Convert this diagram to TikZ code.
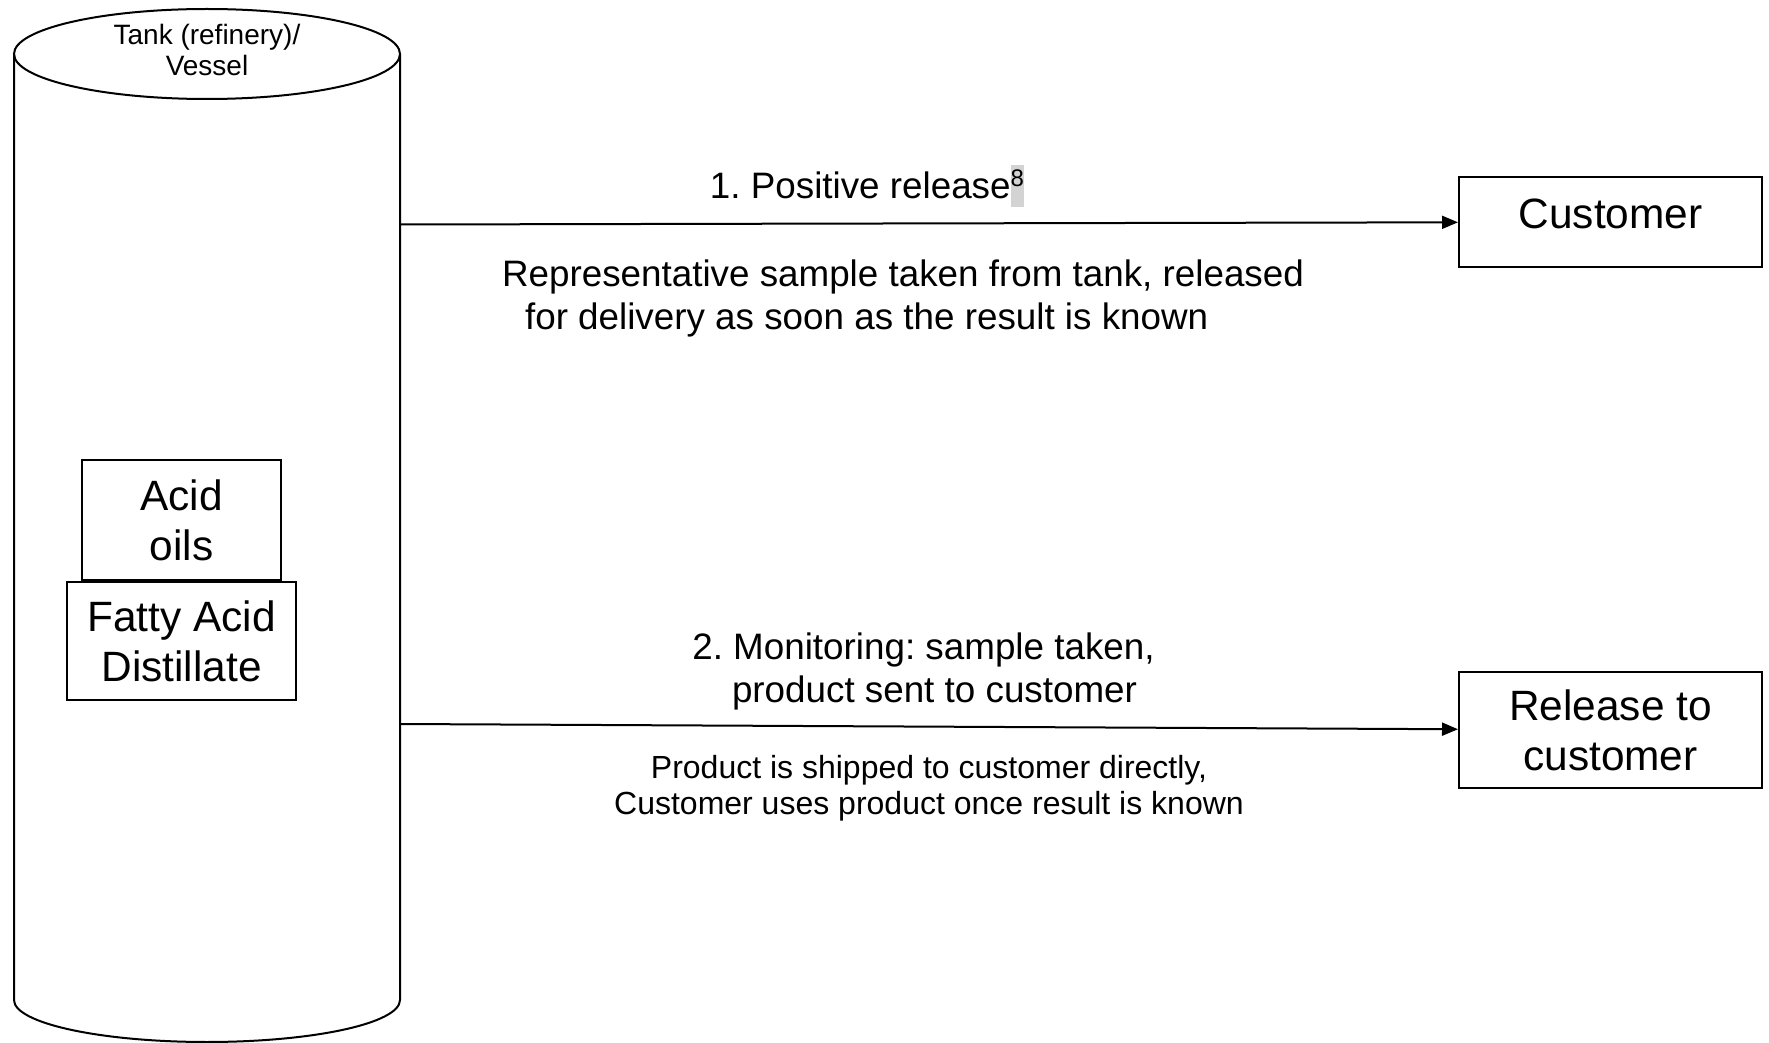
\documentclass[tikz,border=0pt]{standalone}
\usepackage{fontspec}
\setmainfont{Liberation Sans}
\usetikzlibrary{arrows.meta}
\usetikzlibrary{positioning}
\definecolor{markgray}{RGB}{211,211,211}
\frenchspacing

\begin{document}
\begin{tikzpicture}[x=0.5pt,y=0.5pt,line width=1pt,flow/.style={-{Triangle[length=8pt,width=6.5pt]}},box node/.style={draw,align=center,inner sep=0pt,font=\fontsize{21.2}{25}\selectfont},label node/.style={inner sep=0pt,font=\fontsize{18.4}{21.5}\selectfont},note node/.style={inner sep=0pt,align=center,font=\fontsize{16}{18}\selectfont}]

            \useasboundingbox (0,0) rectangle (1769,-1043);

            % tank
            \draw (14,-54) -- (14,-1000) arc[start angle=180,end angle=360,x radius=193,y radius=42] -- (400,-54);
            \draw (207,-54) ellipse [x radius=193,y radius=45];
            \node[inner sep=0pt,align=center,font=\fontsize{14}{15.5}\selectfont] (tank) at (207,-49.5) {Tank (refinery)/\\Vessel};

            \node[box node,minimum width=99.5pt,minimum height=60pt] (acid) at (181.5,-520) {Acid\\oils};
            \node[box node,minimum width=114.5pt,minimum height=59pt] (fad) [below=0pt of acid] {Fatty Acid\\Distillate};

            \node[box node,minimum width=151.5pt,minimum height=45pt,text depth=8pt] (customer) at (1610.5,-222) {Customer};
            \node[box node,minimum width=151.5pt,minimum height=58pt] (release) [below=201.5pt of customer] {Release to\\customer};

            \coordinate (tank out1) at (400,-224.5);
            \coordinate (tank out2) at (400,-724);

            \draw[flow] (tank out1) -- (customer);
            \draw[flow] (tank out2) -- (release);

            % labels
            \node[label node,anchor=base] (positive) at (867,-199) {1. Positive release\raisebox{6pt}{\setlength{\fboxsep}{0pt}\colorbox{markgray}{\fontsize{12}{14}\selectfont\rule[-10pt]{0pt}{21pt}8}}};
            \node[label node,align=left] (sample) at (903,-298) {Representative sample taken from tank, released\\\hspace*{11.5pt}for delivery as soon as the result is known};
            \node[label node,align=center] (monitor) at (923.5,-671) {2. Monitoring: sample taken,\\\hspace*{11pt}product sent to customer};
            \node[note node] (shipped) at (929,-788) {Product is shipped to customer directly,\\Customer uses product once result is known};
\end{tikzpicture}
\end{document}
